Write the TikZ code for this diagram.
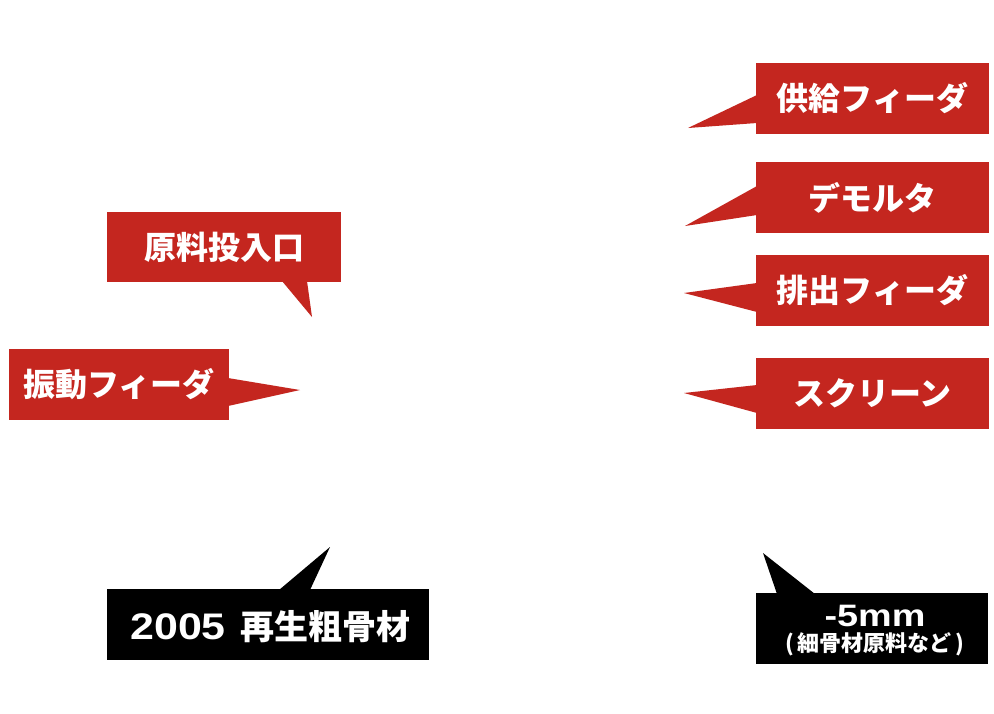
\documentclass[tikz,border=0pt]{standalone}
\usepackage{fontspec}
\newfontfamily\jp{Noto Sans CJK JP}
\newfontfamily\lat{Liberation Sans}
\definecolor{cred}{RGB}{196,38,31}
\definecolor{cblack}{RGB}{0,0,0}
\begin{document}
\begin{tikzpicture}[x=1pt,y=-1pt,
  redbox/.style={fill=cred,draw=none,inner sep=0pt,text=white,font=\jp\bfseries\fontsize{32}{36}\selectfont},
  blackbox/.style={fill=cblack,draw=none,inner sep=0pt,text=white},
  redtip/.style={fill=cred,draw=none},
  blacktip/.style={fill=cblack,draw=none},
  txt/.style={inner sep=0pt,text=white}]
\useasboundingbox[fill=white] (0,0) rectangle (994,713);
% tips
\coordinate (t1) at (688,128);
\coordinate (t2) at (685,226);
\coordinate (t3) at (684,293);
\coordinate (t4) at (684,393);
\coordinate (t5) at (312,317);
\coordinate (t6) at (300,390);
\coordinate (t7) at (330,547);
\coordinate (t8) at (763,553);
% pointers
\fill[redtip] (757,95) -- (t1) -- (757,123) -- cycle;
\fill[redtip] (757,186) -- (t2) -- (757,215) -- cycle;
\fill[redtip] (757,283) -- (t3) -- (757,312) -- cycle;
\fill[redtip] (757,385) -- (t4) -- (757,413) -- cycle;
\fill[redtip] (282,281) -- (t5) -- (307,281) -- cycle;
\fill[redtip] (228,378) -- (t6) -- (228,406) -- cycle;
\fill[blacktip] (279,590) -- (t7) -- (310,590) -- cycle;
\fill[blacktip] (777,594) -- (t8) -- (815,594) -- cycle;
% boxes
\node[redbox,minimum width=233,minimum height=71] (feed) at (872.5,98.5) {供給フィーダ};
\node[redbox,minimum width=233,minimum height=71] (demo) at (872.5,197.5) {デモルタ};
\node[redbox,minimum width=233,minimum height=71] (dis) at (872.5,290.5) {排出フィーダ};
\node[redbox,minimum width=233,minimum height=71] (scr) at (872.5,393.5) {スクリーン};
\node[redbox,minimum width=234,minimum height=70] (inlet) at (224,247) {原料投入口};
\node[redbox,minimum width=220,minimum height=71] (vib) at (119,384.5) {振動フィーダ};
\node[blackbox,minimum width=322,minimum height=71] (agg) at (268,624.5) {};
\node[blackbox,minimum width=232,minimum height=71] (fine) at (872,628.5) {};
% texts in black boxes
\node[txt,anchor=east] (agga) at (226,627) {\lat\bfseries\fontsize{37}{40}\selectfont\scalebox{1.16}[1]{2005}};
\node[txt,anchor=west] (aggb) at (240,627) {\jp\bfseries\fontsize{34}{38}\selectfont 再生粗骨材};
\node[txt] (finea) at (875,616) {\lat\bfseries\fontsize{31}{33}\selectfont\scalebox{1.22}[1]{-5mm}};
\node[txt] (fineb) at (875,644) {\jp\bfseries\fontsize{22}{24}\selectfont (\hspace{4pt}細骨材原料など\hspace{4pt})};
\end{tikzpicture}
\end{document}
